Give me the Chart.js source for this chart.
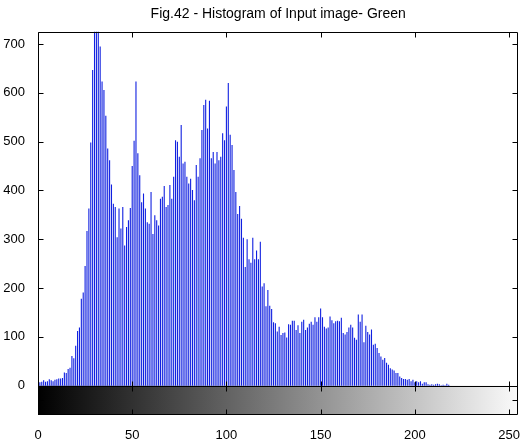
<!DOCTYPE html>
<html>
<head>
<meta charset="utf-8">
<script src="https://cdn.jsdelivr.net/npm/chart.js@4/dist/chart.umd.min.js"></script>
<style>html,body{margin:0;padding:0;background:#fff}</style>
</head>
<body>
<canvas id="hist" width="525" height="439"></canvas>
<script>
'use strict';

var titleText = 'Fig.42 - Histogram of Input image- Green';
var xTicks = [0, 50, 100, 150, 200, 250];
var yTicks = [0, 100, 200, 300, 400, 500, 600, 700];

// pixel counts per gray level 0..255
var counts = [
    5, 7, 8, 11, 8, 9, 13, 11, 9, 12,
    13, 15, 15, 16, 27, 26, 34, 37, 61, 56,
    82, 112, 119, 178, 191, 245, 317, 363, 498, 647,
    774, 794, 749, 695, 623, 606, 553, 486, 462, 412,
    373, 366, 304, 363, 322, 366, 287, 325, 339, 364,
    450, 502, 623, 476, 431, 376, 394, 363, 335, 332,
    397, 311, 349, 339, 328, 383, 387, 409, 366, 370,
    411, 383, 428, 503, 500, 469, 534, 455, 459, 428,
    414, 424, 401, 380, 452, 428, 466, 524, 575, 586,
    527, 584, 466, 479, 455, 479, 462, 469, 517, 503,
    572, 620, 514, 493, 442, 397, 352, 368, 342, 303,
    243, 300, 259, 252, 303, 259, 277, 259, 295, 203,
    210, 163, 196, 164, 157, 130, 128, 111, 121, 104,
    108, 109, 99, 126, 125, 133, 133, 114, 124, 108,
    131, 135, 114, 119, 127, 131, 125, 140, 131, 140,
    158, 140, 121, 117, 119, 142, 134, 128, 132, 133,
    132, 139, 108, 105, 110, 119, 125, 119, 98, 94,
    146, 131, 146, 89, 123, 110, 105, 115, 84, 86,
    77, 67, 60, 53, 57, 47, 43, 36, 33, 31,
    26, 26, 19, 16, 14, 14, 12, 14, 9, 12,
    7, 9, 7, 9, 4, 7, 7, 3, 2, 3,
    2, 3, 4, 3, 1, 2, 1, 4, 2, 0,
    0, 0, 0, 0, 0, 0, 0, 0, 0, 0,
    0, 0, 0, 0, 0, 0, 0, 0, 0, 0,
    0, 0, 0, 0, 0, 0, 0, 0, 0, 0,
    0, 0, 0, 0, 0, 0
];

var fontFamily = "'Liberation Sans', Arial, sans-serif";

// gray colorbar under the histogram, then black axes box with inward ticks
var matlabFrame = {
    id: 'matlabFrame',
    beforeDatasetsDraw: function(chart) {
        var c = chart.ctx, a = chart.chartArea;
        var y0 = chart.scales.y.getPixelForValue(0);
        var grad = c.createLinearGradient(a.left, 0, a.right, 0);
        grad.addColorStop(0, '#000');
        grad.addColorStop(1, '#fafafa');
        c.save();
        c.fillStyle = grad;
        c.fillRect(a.left, y0, a.right - a.left, a.bottom - y0);
        c.restore();
    },
    afterDraw: function(chart) {
        var c = chart.ctx, a = chart.chartArea;
        var xs = chart.scales.x, ys = chart.scales.y;
        var y0 = Math.round(ys.getPixelForValue(0)) + 0.5;
        var yMid = Math.round(ys.getPixelForValue(-30)) + 0.5;
        var L = Math.round(a.left) + 0.5, R = Math.round(a.right) - 0.5;
        var T = Math.round(a.top) + 0.5, B = Math.round(a.bottom) - 0.5;
        c.save();
        c.strokeStyle = '#000';
        c.lineWidth = 1;
        c.beginPath();
        c.moveTo(L, T); c.lineTo(R, T); c.lineTo(R, B); c.lineTo(L, B); c.lineTo(L, T);
        c.moveTo(L, y0); c.lineTo(R, y0);
        xTicks.forEach(function(v) {
            var x = Math.round(xs.getPixelForValue(v)) + 0.5;
            c.moveTo(x, T); c.lineTo(x, T + 5);
            c.moveTo(x, y0 - 5); c.lineTo(x, y0 + 5);
            c.moveTo(x, B); c.lineTo(x, B - 5);
        });
        yTicks.forEach(function(v) {
            var y = Math.round(ys.getPixelForValue(v)) + 0.5;
            c.moveTo(L, y); c.lineTo(L + 5, y);
            c.moveTo(R, y); c.lineTo(R - 5, y);
        });
        c.moveTo(L, yMid); c.lineTo(L + 5, yMid);
        c.moveTo(R, yMid); c.lineTo(R - 5, yMid);
        c.stroke();
        c.restore();
    }
};

var ctx = document.getElementById('hist').getContext('2d');
var histChart = new Chart(ctx, {
    type: 'bar',
    data: {
        datasets: [{
            data: counts.map(function(n, i) { return {x: i, y: n}; }),
            backgroundColor: '#1020e0',
            borderWidth: 0,
            inflateAmount: 0,
            barThickness: 1.1
        }]
    },
    options: {
        responsive: false,
        animation: false,
        layout: {padding: {left: 0, right: 4, top: 0, bottom: 0}},
        plugins: {
            legend: {display: false},
            tooltip: {enabled: false},
            title: {
                display: true,
                fullSize: false,
                text: titleText,
                color: '#000',
                font: {family: fontFamily, size: 14, weight: 'normal'},
                padding: {top: 6, bottom: 9}
            }
        },
        scales: {
            x: {
                type: 'linear',
                offset: false,
                min: 0,
                max: 255,
                grid: {display: false, offset: false},
                border: {display: false},
                afterBuildTicks: function(s) {
                    s.ticks = xTicks.map(function(v) { return {value: v}; });
                },
                afterFit: function(s) { s.height = 24; },
                ticks: {color: '#000', font: {family: fontFamily, size: 13}, padding: 5, maxRotation: 0, autoSkip: false}
            },
            y: {
                min: -60,
                max: 725,
                grid: {display: false},
                border: {display: false},
                afterBuildTicks: function(s) {
                    s.ticks = yTicks.map(function(v) { return {value: v}; });
                },
                afterFit: function(s) { s.width = 38; },
                ticks: {color: '#000', font: {family: fontFamily, size: 13}, padding: 5}
            }
        }
    },
    plugins: [matlabFrame]
});
</script>
</body>
</html>
